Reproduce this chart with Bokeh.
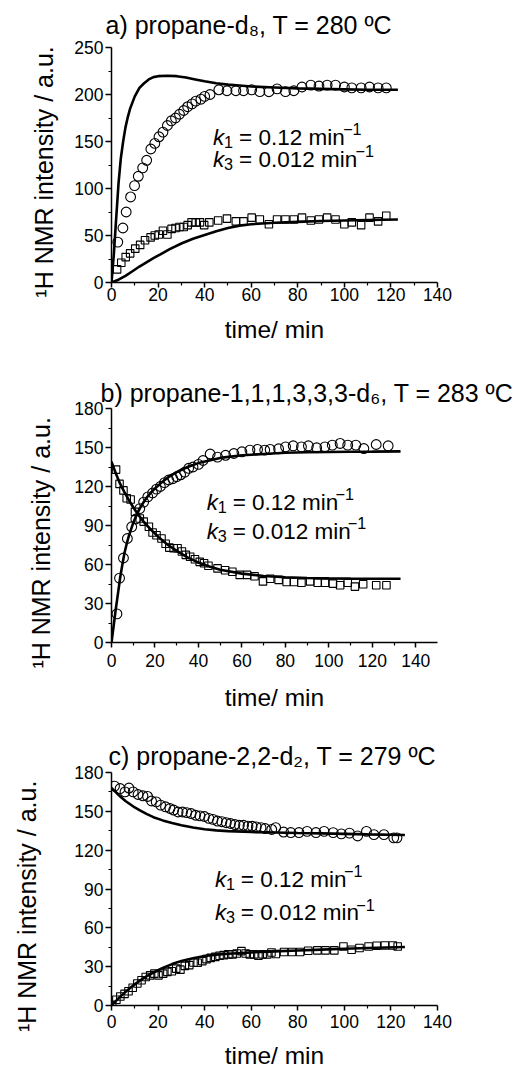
from bokeh.plotting import figure
from bokeh.models import Range1d, FixedTicker, Label
from bokeh.layouts import column
from bokeh.embed import file_html
from bokeh.resources import INLINE

FONT = "Liberation Sans"

# ---------------- data: panel a (propane-d8, 280 C) ----------------
a_circ_t = [2.7, 4.9, 6.3, 8.2, 9.9, 11.5, 13.4, 15.1, 16.9, 18.6, 20.4, 22.1, 24.0, 25.7, 27.5,
            29.2, 31.0, 32.7, 34.6, 36.2, 38.4, 40.0, 42.3, 46.1, 49.6, 53.4, 56.7, 60.2, 63.7,
            67.6, 71.1, 74.7, 78.3, 81.8, 85.6, 89.1, 92.6, 96.2, 100.0, 103.2, 107.2, 110.8,
            114.5, 118.0]
a_circ_v = [43, 58, 75, 91, 103, 113, 122, 130, 142, 148, 155, 160, 167, 172, 175,
            179, 183, 187, 190, 193, 195, 198, 200, 205, 204, 204, 204, 205, 203,
            203, 206, 203, 204, 208, 210, 209, 210, 210, 208, 207, 207, 208,
            207, 207]
a_sq_t = [2.4, 4.2, 6.1, 8.0, 10.2, 12.3, 14.4, 16.8, 18.6, 20.3, 22.1, 24.0, 25.8, 27.5, 29.2,
          31.0, 32.7, 34.4, 36.2, 38.0, 39.8, 42.0, 45.8, 49.6, 53.4, 56.7, 60.2, 63.7, 67.6,
          71.1, 74.7, 78.3, 81.8, 85.6, 89.1, 92.6, 96.2, 100.0, 103.2, 107.2, 110.8, 114.5, 118.0]
a_sq_v = [14, 21, 27, 31, 36, 40, 45, 48, 50, 51, 55, 51, 57, 58, 59,
          59, 61, 64, 64, 64, 61, 64, 66, 68, 65, 65, 69, 67, 62,
          67, 67, 67, 69, 66, 67, 69, 67, 62, 64, 61, 69, 65, 71]
a_fit1_t = [0, 1, 2, 3, 4, 5, 6, 7, 8, 10, 12, 14, 16, 18, 20, 24, 28, 32, 36, 40, 45, 50, 55,
            60, 70, 80, 90, 100, 110, 123]
a_fit1_v = [0, 30, 68, 105, 132, 150, 165, 176, 185, 198, 207, 212, 216, 218.5, 219.5, 220,
            219.5, 218, 216, 214, 212, 210.5, 209.5, 208.5, 207.5, 206.5, 206, 205.5, 205, 205]
a_fit2_t = [0, 3, 6, 9, 12, 15, 18, 21, 25, 30, 35, 40, 45, 50, 55, 60, 70, 80, 90, 100, 110, 123]
a_fit2_v = [0, 3, 7, 12, 17, 21.5, 26, 30, 35.5, 41.5, 46.5, 50.5, 54.5, 58, 60.5, 62, 63.5,
            64.5, 65.5, 66, 66.5, 67]

# ---------------- data: panel b (propane-1,1,1,3,3,3-d6, 283 C) ----------------
b_circ_t = [2.5, 3.7, 5.5, 7.3, 9.3, 11.2, 13.0, 14.8, 16.7, 18.9, 20.7, 22.5, 24.4, 26.3, 28.2,
            30.0, 31.8, 33.7, 35.5, 37.5, 40.0, 42.1, 45.4, 48.8, 52.5, 56.3, 60.0, 63.7, 67.2,
            70.5, 73.0, 76.9, 80.1, 83.6, 87.4, 90.6, 94.4, 98.2, 101.6, 105.2, 108.7, 112.4,
            116.1, 121.8, 127.3]
b_circ_v = [22, 49.5, 65, 80, 89, 95, 103, 108, 112, 115, 118, 120, 123, 125, 126,
            127.5, 129, 131, 134, 135, 137, 140, 145, 142.6, 144, 145.4, 146.7, 148, 148.5,
            148, 148.5, 149, 150.5, 151.3, 150.5, 151.3, 149.8, 150.5, 151.8, 153.1, 151.8, 151.8,
            149.2, 152.3, 151.3]
b_sq_t = [2.1, 3.7, 5.5, 7.0, 8.8, 10.8, 13.0, 14.8, 17.2, 18.9, 20.7, 23.0, 24.9, 26.6, 28.6,
          30.4, 32.4, 34.2, 36.2, 38.4, 40.6, 42.6, 44.6, 48.8, 52.3, 55.6, 59.0, 62.4, 65.8,
          69.7, 73.0, 76.9, 80.6, 83.9, 87.4, 91.4, 94.9, 98.2, 101.9, 105.2, 108.7, 112.0,
          115.8, 121.8, 126.5]
b_sq_v = [133, 122, 117, 111, 110, 100.5, 95.4, 93, 89, 84.6, 82.5, 80, 76, 73, 72.5,
          72.5, 70, 67.4, 66, 64, 62, 61, 59, 57, 55.6, 54.4, 52, 52, 51,
          47, 49, 48.2, 46.5, 46.5, 46, 47, 46, 46, 45.3, 44, 46, 43,
          44.8, 44, 44]
b_fit1_t = [0, 1, 2, 3, 4, 5, 6, 7, 8, 10, 12, 14, 16, 18, 20, 23, 26, 30, 35, 40, 45, 50, 60,
            70, 80, 90, 100, 110, 120, 133]
b_fit1_v = [0, 13, 26, 38, 50, 60, 69, 76, 82, 92, 100, 106, 111, 115, 118.5, 123, 127, 131,
            135, 138, 140, 142, 144, 145, 146, 146.3, 146.5, 146.7, 146.8, 147]
b_fit2_t = [0, 2, 4, 6, 8, 10, 12, 15, 18, 22, 26, 30, 35, 40, 45, 50, 60, 70, 80, 90, 100,
            110, 120, 133]
b_fit2_v = [139, 130, 122, 115.5, 109.5, 104, 99, 92.5, 87, 80.5, 75, 70.5, 65.5, 61.5, 58.5,
            56, 53, 51.2, 50.2, 49.6, 49.3, 49.1, 49, 49]

# ---------------- data: panel c (propane-2,2-d2, 279 C) ----------------
c_circ_t = [1.3, 3.7, 5.8, 7.5, 9.3, 11.4, 13.5, 15.5, 17.2, 19.2, 21.1, 23.2, 25.1, 26.7, 28.6,
            30.5, 32.3, 34.2, 36.1, 38.0, 39.9, 41.8, 43.6, 45.5, 47.4, 49.3, 51.1, 53.0, 54.9,
            56.7, 58.6, 60.4, 62.2, 64.2, 66.0, 68.8, 70.5, 73.9, 77.0, 80.5, 84.0, 87.8, 91.3,
            95.2, 98.7, 102.2, 105.7, 109.5, 112.7, 117.0, 121.2, 122.6]
c_circ_v = [169.5, 167.6, 165, 168, 165, 163, 162, 161.5, 158, 157.3, 154.8, 153.5, 152.2, 151,
            149.5, 149.5, 149, 148.3, 147, 146.5, 146, 144.6, 143.8, 142.5, 142, 141.2, 140.6,
            139.8, 139.2, 139.2, 138.5, 138.5, 138, 137.4, 136.7, 136, 137.4, 134, 133.6, 133.6,
            134.5, 133.6, 134.5, 133.6, 132.6, 133.2, 131, 134.5, 132, 132, 129.5, 129.5]
c_sq_t = [0.3, 2.1, 3.8, 5.6, 7.3, 9.1, 11.1, 12.9, 14.7, 16.6, 18.4, 20.2, 22.2, 24.0, 25.9,
          27.8, 29.6, 31.5, 33.4, 35.2, 37.0, 39.0, 40.8, 42.6, 44.6, 46.4, 48.2, 50.2, 52.0,
          53.8, 55.8, 57.6, 59.4, 61.3, 63.1, 64.9, 66.9, 68.7, 70.6, 74.1, 77.5, 81.0, 84.5,
          88.4, 91.9, 95.7, 99.6, 103.1, 106.5, 110.4, 113.9, 117.4, 120.8, 122.9]
c_sq_v = [0.5, 4.5, 7, 9, 11, 13.7, 17, 19.5, 22, 23.3, 24.6, 23.3, 24.6, 26, 26.5,
          28.5, 27.7, 30.6, 31.2, 33.2, 33, 34.3, 35.8, 36.8, 37.6, 38.4, 38.9, 39.5, 39.5,
          40.2, 42, 40.2, 39.5, 39.5, 38.4, 39.5, 39.5, 41, 39.8, 41.3, 41.3, 41.3, 42.3,
          42.6, 42.6, 42.6, 45.6, 43.1, 44.4, 45.6, 46.2, 46.4, 46.4, 45.6]
c_fit1_t = [0, 2, 4, 6, 8, 10, 12, 15, 18, 22, 26, 30, 35, 40, 45, 50, 60, 70, 80, 90, 100, 110, 126]
c_fit1_v = [168, 164.5, 161, 158, 155.5, 153, 151, 148, 145.5, 143, 141, 139.3, 137.5, 136.2,
            135.3, 134.7, 134, 133.7, 133.3, 133, 132.6, 132.2, 131.7]
c_fit2_t = [0, 3, 6, 9, 12, 15, 18, 22, 26, 30, 35, 40, 45, 50, 60, 70, 80, 90, 100, 110, 126]
c_fit2_v = [0, 5.5, 10.5, 15, 19, 22.5, 25.5, 29, 32, 34.3, 36.5, 38.2, 39.3, 40, 41, 41.8,
            42.5, 43.2, 43.8, 44.4, 45.2]

# ---------------- ticks / labels ----------------
x_ticks = [0, 20, 40, 60, 80, 100, 120, 140]
x_minor = [10, 30, 50, 70, 90, 110, 130]
ya_ticks = [0, 50, 100, 150, 200, 250]
ya_minor = [25, 75, 125, 175, 225]
ybc_ticks = [0, 30, 60, 90, 120, 150, 180]
ybc_minor = [15, 45, 75, 105, 135, 165]

x_label = "time/ min"
y_label = "\u00b9H NMR intensity / a.u."

title_a = "a) propane-d\u2088, T = 280 \u00baC"
title_b = "b) propane-1,1,1,3,3,3-d\u2086, T = 283 \u00baC"
title_c = "c) propane-2,2-d\u2082, T = 279 \u00baC"
k1_text = [("k", "i"), ("1", "sub"), (" = 0.12 min", "n"), ("\u22121", "sup")]
k3_text = [("k", "i"), ("3", "sub"), (" = 0.012 min", "n"), ("\u22121", "sup")]

# Arial / Liberation Sans advance widths (1/1000 em)
AW = {' ': 278, ')': 333, '(': 333, ',': 278, '-': 333, '.': 278, '/': 278, '=': 584,
      'C': 722, 'H': 722, 'M': 833, 'N': 722, 'R': 722, 'T': 611,
      'a': 556, 'b': 556, 'c': 500, 'd': 556, 'e': 556, 'i': 222, 'k': 500, 'm': 833,
      'n': 556, 'o': 556, 'p': 556, 'r': 333, 's': 500, 't': 278, 'u': 556, 'y': 500,
      '\u00ba': 365, '\u2212': 584}


def tw(s, size):
    return sum(AW.get(ch, 556) for ch in s) / 1000.0 * size


SMALL = 0.72


def rich(p, segs, px, py, size, fr):
    """Mixed-style text inside the frame; px/py page pixels of the baseline start."""
    left, bottom, xpu, ypu = fr
    x = px
    for txt, st in segs:
        fs = size * (SMALL if st in ("sub", "sup") else 1.0)
        dy = 0.2 * size if st == "sub" else (-0.36 * size if st == "sup" else 0.0)
        lead = len(txt) - len(txt.lstrip())
        xd = x + tw(txt[:lead], fs)
        p.add_layout(Label(x=(xd - left) / xpu, y=(bottom - (py + dy)) / ypu, text=txt.strip(),
                           text_font=FONT, text_font_size=f"{fs:.1f}px",
                           text_font_style="italic" if st == "i" else "normal",
                           text_baseline="alphabetic", text_align="left", text_color="black"))
        x += tw(txt, fs)


def make_fig(h, bl, br, bt, bb, xmax, ymax, yt, ym, title, t_off, t_stand,
             ylab_off, ylab_pad, xtick_off, xlab_off):
    p = figure(width=526, height=h, min_border_left=bl, min_border_right=br,
               min_border_top=bt, min_border_bottom=bb,
               x_range=Range1d(0, xmax), y_range=Range1d(0, ymax),
               output_backend="svg", toolbar_location=None)
    p.title.text = title
    p.title.text_font = FONT
    p.title.text_font_size = "25px"
    p.title.text_font_style = "normal"
    p.title.text_color = "black"
    p.title.align = "left"
    p.title.offset = t_off
    p.title.standoff = t_stand
    p.xgrid.visible = False
    p.ygrid.visible = False
    p.outline_line_color = None
    p.background_fill_color = "white"
    p.border_fill_color = "white"
    p.xaxis.ticker = FixedTicker(ticks=[t for t in x_ticks if t <= xmax],
                                 minor_ticks=[t for t in x_minor if t <= xmax])
    p.yaxis.ticker = FixedTicker(ticks=yt, minor_ticks=ym)
    p.xaxis.axis_label = x_label
    # trailing no-break spaces shift the centred label down like in the original
    p.yaxis.axis_label = y_label + "\u00a0" * ylab_pad
    for ax in (p.xaxis[0], p.yaxis[0]):
        ax.axis_line_width = 1.5
        ax.axis_line_color = "black"
        ax.major_tick_line_width = 1.5
        ax.minor_tick_line_width = 1.2
        ax.major_tick_line_color = "black"
        ax.minor_tick_line_color = "black"
        ax.major_tick_in = 0
        ax.minor_tick_in = 0
        ax.minor_tick_out = 3
        ax.major_label_text_font = FONT
        ax.major_label_text_font_size = "17.5px"
        ax.major_label_text_color = "black"
        ax.axis_label_text_font = FONT
        ax.axis_label_text_font_style = "normal"
        ax.axis_label_text_color = "black"
    p.yaxis[0].axis_label_text_font_size = "25px"
    p.xaxis[0].axis_label_text_font_size = "24.5px"
    p.yaxis[0].major_tick_out = 6
    p.yaxis[0].major_label_standoff = 2
    p.yaxis[0].axis_label_standoff = ylab_off
    p.xaxis[0].major_tick_out = 5
    p.xaxis[0].major_label_standoff = xtick_off
    p.xaxis[0].axis_label_standoff = xlab_off
    return p


def draw(p, ct, cv, st, sv, f1t, f1v, f2t, f2v):
    p.line(f1t, f1v, line_width=2.6, line_color="black")
    p.line(f2t, f2v, line_width=2.6, line_color="black")
    p.scatter(ct, cv, marker="circle", size=9.8, fill_color=None, line_color="black", line_width=1.1)
    p.scatter(st, sv, marker="square", size=7.5, fill_color=None, line_color="black", line_width=1.1)


# ----- panel a ----- page y 0..360; frame x 106..437, y 47..282
pa = make_fig(360, 106, 89, 47, 78, 140, 250, ya_ticks, ya_minor, title_a, -6, 17, 13, 2, 0, 12)
draw(pa, a_circ_t, a_circ_v, a_sq_t, a_sq_v, a_fit1_t, a_fit1_v, a_fit2_t, a_fit2_v)
fa = (106, 282, 331 / 140, 235 / 250)
rich(pa, k1_text, 209, 136.5, 22.5, fa)
rich(pa, k3_text, 209, 159, 22.5, fa)

# ----- panel b ----- page y 360..716; frame x 111..446, y 408..642
pb = make_fig(356, 111, 80, 48, 74, 150, 180, ybc_ticks, ybc_minor, title_b, -11, 4, 16, 5, 6, 14)
draw(pb, b_circ_t, b_circ_v, b_sq_t, b_sq_v, b_fit1_t, b_fit1_v, b_fit2_t, b_fit2_v)
fb = (111, 642, 335 / 150, 234 / 180)
rich(pb, k1_text, 209, 501.5, 22.5, fb)
rich(pb, k3_text, 209, 530.5, 22.5, fb)

# ----- panel c ----- page y 716..1071; frame x 103..437, y 772..1006
pc = make_fig(355, 103, 89, 56, 65, 140, 180, ybc_ticks, ybc_minor, title_c, -3, 6, 30, 5, 4, 11)
draw(pc, c_circ_t, c_circ_v, c_sq_t, c_sq_v, c_fit1_t, c_fit1_v, c_fit2_t, c_fit2_v)
fc = (103, 1006, 334 / 140, 234 / 180)
rich(pc, k1_text, 209, 879.5, 22.5, fc)
rich(pc, k3_text, 209, 913, 22.5, fc)

layout = column(pa, pb, pc)
open("out.html", "w").write(file_html(layout, INLINE))
